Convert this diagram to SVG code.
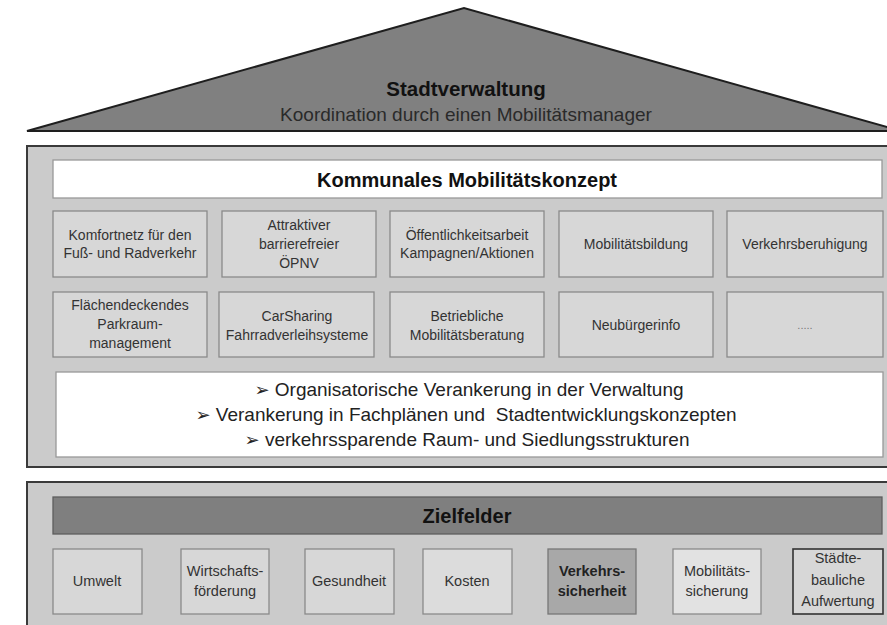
<svg xmlns="http://www.w3.org/2000/svg" width="887" height="625" viewBox="0 0 887 625">
<style>
text{font-family:"Liberation Sans",Arial,"DejaVu Sans",sans-serif;text-anchor:middle;fill:#333}
.outer{fill:#cbcbcb;stroke:#3a3a3a;stroke-width:2}
.box{fill:#d7d7d7;stroke:#8a8a8a;stroke-width:1.3}
.white{fill:#ffffff;stroke:#999;stroke-width:1.3}
.t{font-size:14px}
.b{font-size:14.5px}
.h{font-size:20px;font-weight:bold;fill:#111}
.bul{font-size:19px;fill:#222}
.arr{font-family:"DejaVu Sans",sans-serif;font-size:18px}
</style>
<rect width="887" height="625" fill="#ffffff"/>
<g id="roof">
<polygon points="27,131 464,8 901,131" fill="#808080" stroke="#1e1e1e" stroke-width="2"/>
<text x="466" y="96" class="h" style="font-size:20.5px">Stadtverwaltung</text>
<text x="466" y="121" style="font-size:19px;fill:#2a2a2a">Koordination durch einen Mobilitätsmanager</text>
</g>
<g id="konzept">
<rect class="outer" x="27" y="146" width="875" height="321"/>
<g id="konzept-title">
<rect class="white" x="53" y="160" width="829" height="38"/>
<text x="467" y="187" class="h">Kommunales Mobilitätskonzept</text>
</g>
<g id="k1"><rect class="box" x="53" y="211" width="154" height="66"/>
<text class="t" x="130" y="240">Komfortnetz für den</text><text class="t" x="130" y="258">Fuß- und Radverkehr</text></g>
<g id="k2"><rect class="box" x="222" y="211" width="154" height="66"/>
<text class="t" x="299" y="230">Attraktiver</text><text class="t" x="299" y="249">barrierefreier</text><text class="t" x="299" y="268">ÖPNV</text></g>
<g id="k3"><rect class="box" x="390" y="211" width="154" height="66"/>
<text class="t" x="467" y="240">Öffentlichkeitsarbeit</text><text class="t" x="467" y="258">Kampagnen/Aktionen</text></g>
<g id="k4"><rect class="box" x="559" y="211" width="154" height="66"/>
<text class="t" x="636" y="249">Mobilitätsbildung</text></g>
<g id="k5"><rect class="box" x="727" y="211" width="156" height="66"/>
<text class="t" x="805" y="249">Verkehrsberuhigung</text></g>
<g id="k6"><rect class="box" x="53" y="292" width="154" height="65"/>
<text class="t" x="130" y="310">Flächendeckendes</text><text class="t" x="130" y="329">Parkraum-</text><text class="t" x="130" y="348">management</text></g>
<g id="k7"><rect class="box" x="219" y="292" width="155" height="65"/>
<text class="t" x="297" y="321">CarSharing</text><text class="t" x="297" y="340">Fahrradverleihsysteme</text></g>
<g id="k8"><rect class="box" x="390" y="292" width="154" height="65"/>
<text class="t" x="467" y="321">Betriebliche</text><text class="t" x="467" y="340">Mobilitätsberatung</text></g>
<g id="k9"><rect class="box" x="559" y="292" width="154" height="65"/>
<text class="t" x="636" y="330">Neubürgerinfo</text></g>
<g id="k10"><rect class="box" x="727" y="292" width="156" height="65"/>
<text class="t" x="805" y="329" style="font-size:11px;fill:#777">.....</text></g>
<g id="verankerung">
<rect class="white" x="56" y="372" width="827" height="85"/>
<text class="bul" x="469" y="396"><tspan class="arr">➢</tspan> Organisatorische Verankerung in der Verwaltung</text>
<text class="bul" x="466" y="421"><tspan class="arr">➢</tspan> Verankerung in Fachplänen und&#160; Stadtentwicklungskonzepten</text>
<text class="bul" x="467" y="446"><tspan class="arr">➢</tspan> verkehrssparende Raum- und Siedlungsstrukturen</text>
</g>
</g>
<g id="zielfelder">
<rect class="outer" x="27" y="482" width="875" height="160"/>
<g id="ziel-title">
<rect x="53" y="497" width="829" height="37" fill="#7f7f7f" stroke="#5e5e5e" stroke-width="1.3"/>
<text x="467" y="523" class="h">Zielfelder</text>
</g>
<g id="z1"><rect class="box" x="53" y="549" width="89" height="65"/>
<text class="b" x="97" y="586">Umwelt</text></g>
<g id="z2"><rect class="box" x="181" y="549" width="88" height="65"/>
<text class="b" x="225" y="576">Wirtschafts-</text><text class="b" x="225" y="596">förderung</text></g>
<g id="z3"><rect class="box" x="305" y="549" width="89" height="65"/>
<text class="b" x="349" y="586">Gesundheit</text></g>
<g id="z4"><rect class="box" x="423" y="549" width="89" height="65" style="fill:#dcdcdc"/>
<text class="b" x="467" y="586">Kosten</text></g>
<g id="z5"><rect class="box" x="548" y="549" width="88" height="65" style="fill:#a8a8a8;stroke:#777"/>
<text class="b" x="592" y="576" style="font-weight:bold;fill:#222">Verkehrs-</text><text class="b" x="592" y="596" style="font-weight:bold;fill:#222">sicherheit</text></g>
<g id="z6"><rect class="box" x="673" y="549" width="88" height="65" style="fill:#e2e2e2"/>
<text class="b" x="717" y="576">Mobilitäts-</text><text class="b" x="717" y="596">sicherung</text></g>
<g id="z7"><rect class="box" x="793" y="549" width="90" height="65" style="stroke:#333;stroke-width:1.6"/>
<text class="b" x="838" y="563">Städte-</text><text class="b" x="838" y="585">bauliche</text><text class="b" x="838" y="606">Aufwertung</text></g>
</g>
<g id="connectors"/>
</svg>
